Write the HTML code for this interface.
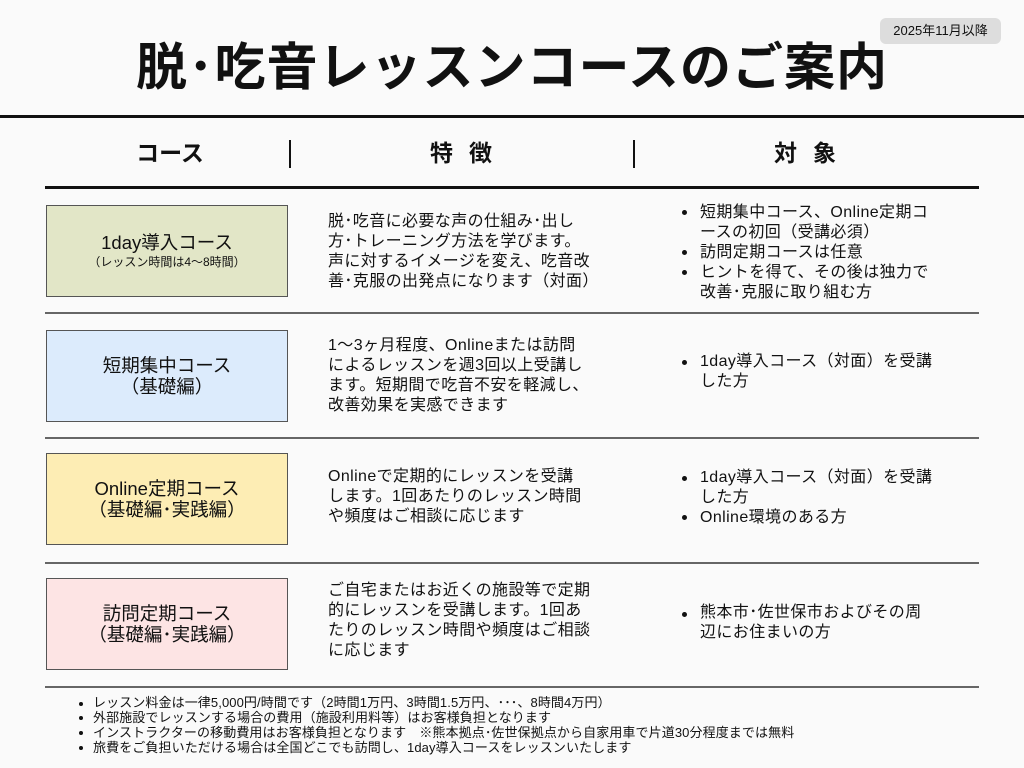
<!DOCTYPE html>
<html><head><meta charset="utf-8"><style>
*{margin:0;padding:0;box-sizing:border-box}
body{width:1024px;height:768px;background:#fafafa;position:relative;overflow:hidden;font-family:"Liberation Sans","Noto Sans CJK JP",sans-serif;color:#111}
.a{position:absolute}
.t{font-size:16px;line-height:20px;white-space:nowrap;letter-spacing:0.4px}
.box{position:absolute;left:46px;width:242px;height:92px;border:1px solid #555;text-align:center;display:flex;flex-direction:column;justify-content:center;font-size:18.5px;line-height:21px}
.hl{position:absolute;left:45px;width:934px;height:1.5px;background:#666}
.b{position:absolute;width:5px;height:5px;border-radius:50%;background:#111}
.f{position:absolute;left:93px;font-size:13px;line-height:14.7px;white-space:nowrap;letter-spacing:0.1px}
</style></head><body>
<div class="a" style="left:880px;top:18px;width:121px;height:26px;background:#ddd;border-radius:6px;font-size:13px;line-height:26px;text-align:center">2025年11月以降</div>
<div class="a" style="left:0;width:1024px;top:36px;text-align:center;font-size:51px;font-weight:bold;line-height:64px;letter-spacing:1px">脱･吃音レッスンコースのご案内</div>
<div class="a" style="left:0;top:115px;width:1024px;height:2.5px;background:#111"></div>
<div class="a" style="left:80px;width:180px;top:139px;text-align:center;font-size:23px;font-weight:bold;line-height:28px">コース</div>
<div class="a" style="left:289px;top:140px;width:2px;height:28px;background:#111"></div>
<div class="a" style="left:297px;width:344px;top:139px;text-align:center;font-size:23px;font-weight:bold;line-height:28px;letter-spacing:16px">特徴</div>
<div class="a" style="left:633px;top:140px;width:2px;height:28px;background:#111"></div>
<div class="a" style="left:641px;width:344px;top:139px;text-align:center;font-size:23px;font-weight:bold;line-height:28px;letter-spacing:16px">対象</div>
<div class="a" style="left:45px;top:186px;width:934px;height:2.5px;background:#111"></div>

<div class="box" style="top:205px;background:#e2e6c7"><div>1day導入コース</div><div style="font-size:12px;line-height:18px">（レッスン時間は4〜8時間）</div></div>
<div class="a t" style="left:328px;top:212px">脱･吃音に必要な声の仕組み･出し<br>方･トレーニング方法を学びます。<br>声に対するイメージを変え、吃音改<br>善･克服の出発点になります（対面）</div>
<div class="b" style="left:682px;top:210px"></div><div class="b" style="left:682px;top:250px"></div><div class="b" style="left:682px;top:270px"></div>
<div class="a t" style="left:700px;top:203px">短期集中コース、Online定期コ<br>ースの初回（受講必須）<br>訪問定期コースは任意<br>ヒントを得て、その後は独力で<br>改善･克服に取り組む方</div>
<div class="hl" style="top:312px"></div>

<div class="box" style="top:330px;background:#dcebfc"><div>短期集中コース</div><div>（基礎編）</div></div>
<div class="a t" style="left:328px;top:336px">1〜3ヶ月程度、Onlineまたは訪問<br>によるレッスンを週3回以上受講し<br>ます。短期間で吃音不安を軽減し、<br>改善効果を実感できます</div>
<div class="b" style="left:682px;top:360px"></div>
<div class="a t" style="left:700px;top:352px">1day導入コース（対面）を受講<br>した方</div>
<div class="hl" style="top:437px"></div>

<div class="box" style="top:453px;background:#fdedb4"><div>Online定期コース</div><div>（基礎編･実践編）</div></div>
<div class="a t" style="left:328px;top:467px">Onlineで定期的にレッスンを受講<br>します。1回あたりのレッスン時間<br>や頻度はご相談に応じます</div>
<div class="b" style="left:682px;top:476px"></div><div class="b" style="left:682px;top:515px"></div>
<div class="a t" style="left:700px;top:468px">1day導入コース（対面）を受講<br>した方<br>Online環境のある方</div>
<div class="hl" style="top:562px"></div>

<div class="box" style="top:578px;background:#fde4e4"><div>訪問定期コース</div><div>（基礎編･実践編）</div></div>
<div class="a t" style="left:328px;top:581px">ご自宅またはお近くの施設等で定期<br>的にレッスンを受講します。1回あ<br>たりのレッスン時間や頻度はご相談<br>に応じます</div>
<div class="b" style="left:682px;top:612px"></div>
<div class="a t" style="left:700px;top:603px">熊本市･佐世保市およびその周<br>辺にお住まいの方</div>
<div class="hl" style="top:686px"></div>

<div class="b" style="left:79px;top:702px;width:4px;height:4px"></div>
<div class="b" style="left:79px;top:716px;width:4px;height:4px"></div>
<div class="b" style="left:79px;top:731px;width:4px;height:4px"></div>
<div class="b" style="left:79px;top:746px;width:4px;height:4px"></div>
<div class="f" style="top:696px">レッスン料金は一律5,000円/時間です（2時間1万円、3時間1.5万円、･･･、8時間4万円）</div>
<div class="f" style="top:711px">外部施設でレッスンする場合の費用（施設利用料等）はお客様負担となります</div>
<div class="f" style="top:726px">インストラクターの移動費用はお客様負担となります　※熊本拠点･佐世保拠点から自家用車で片道30分程度までは無料</div>
<div class="f" style="top:741px">旅費をご負担いただける場合は全国どこでも訪問し、1day導入コースをレッスンいたします</div>
</body></html>
